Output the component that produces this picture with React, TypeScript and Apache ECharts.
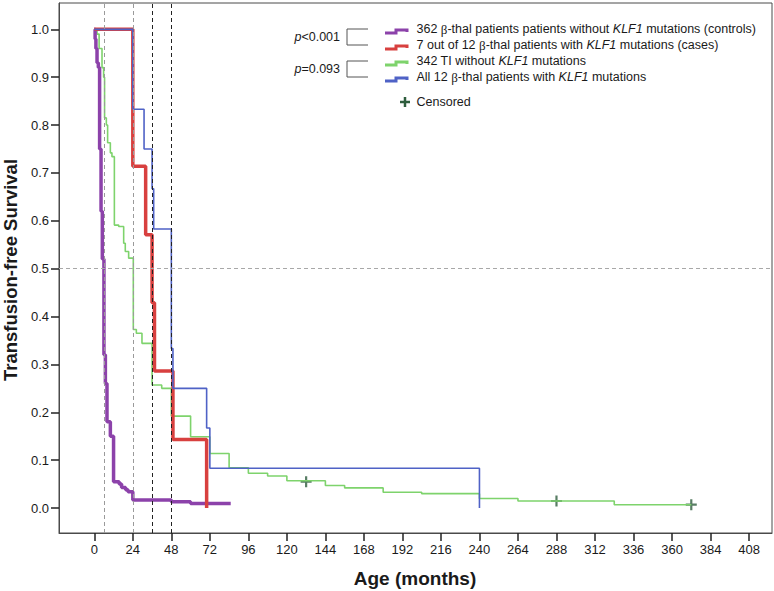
import React, { useEffect, useRef } from "react";
import * as echarts from "echarts";

// ---------- data ----------
const X_TICKS = [0, 24, 48, 72, 96, 120, 144, 168, 192, 216, 240, 264, 288, 312, 336, 360, 384, 408];
const Y_TICKS = [0.0, 0.1, 0.2, 0.3, 0.4, 0.5, 0.6, 0.7, 0.8, 0.9, 1.0];

// 362 β-thal patients without KLF1 mutations (controls)
const CONTROLS: [number, number][] = [
  [0, 1.0], [0.5, 0.98], [1, 0.96], [1.7, 0.93], [2.5, 0.92], [3.3, 0.75], [4.2, 0.62],
  [5, 0.52], [6, 0.32], [6.9, 0.26], [7.9, 0.18], [10, 0.15], [12, 0.055], [15.5, 0.05],
  [17, 0.043], [19.5, 0.038], [21, 0.034], [24, 0.017], [48, 0.013], [60, 0.0095], [85, 0.0095],
];
// 7 out of 12 β-thal patients with KLF1 mutations (cases)
const CASES: [number, number][] = [
  [0, 1.0], [24, 0.714], [32, 0.571], [36, 0.429], [37.5, 0.286], [49, 0.143], [70, 0.0],
];
// 342 TI without KLF1 mutations
const TI: [number, number][] = [
  [0, 1.0], [1.7, 0.99], [3, 0.96], [4.8, 0.92], [5.8, 0.9], [6.4, 0.815], [7.5, 0.8],
  [8.3, 0.763], [10, 0.742], [11, 0.734], [12.5, 0.591], [15.2, 0.588], [18.3, 0.553],
  [19.3, 0.536], [21.4, 0.522], [24.3, 0.373], [26.2, 0.365], [29.7, 0.344], [36, 0.257],
  [42, 0.25], [48, 0.192], [60, 0.149], [72, 0.114], [84, 0.084], [96, 0.0725], [108, 0.067],
  [120, 0.057], [144, 0.047], [156, 0.042], [180, 0.033], [204, 0.03], [240, 0.02],
  [264, 0.0146], [324, 0.0069], [372, 0.0069],
];
// All 12 β-thal patients with KLF1 mutations
const ALL12: [number, number][] = [
  [0, 1.0], [24, 0.833], [31, 0.75], [36, 0.667], [37, 0.583], [48, 0.333], [49, 0.25],
  [70, 0.167], [72, 0.083], [240, 0.0],
];
const CENSORED: [number, number][] = [[132, 0.055], [288, 0.0146], [372, 0.0069]];

const REF_GRAY_X = [6, 24];
const REF_BLACK_X = [36, 48];
const REF_Y = 0.5;

const LEGEND_LABELS = [
  "362 {b|β}-thal patients patients without {i|KLF1} mutations (controls)",
  "7 out of 12 {b|β}-thal patients with {i|KLF1} mutations (cases)",
  "342 TI without {i|KLF1} mutations",
  "All 12 {b|β}-thal patients with {i|KLF1} mutations",
];
const P_LABELS = ["{i|p}<0.001", "{i|p}=0.093"];
const CENSORED_LABEL = "Censored";
const X_TITLE = "Age (months)";
const Y_TITLE = "Transfusion-free Survival";

// ---------- styles ----------
const FONT = '"Liberation Sans", Arial, Helvetica, sans-serif';
const PURPLE = "#8c42aa";
const RED = "#d8403f";
const GREEN = "#7ed36c";
const BLUE = "#4f62c6";
const CENS = "#2e5d3d";
const FRAME = "#4a4a4a";
const TEXT = "#1a1a1a";
const SERIES_COLORS = [PURPLE, RED, GREEN, BLUE];
const LEGEND_Y = [29, 45, 61, 77];

export default function App() {
  const ref = useRef<HTMLDivElement>(null);

  useEffect(() => {
    if (!ref.current) return;
    const chart = echarts.init(ref.current, undefined, { renderer: "svg" });

    const rich = {
      i: { fontStyle: "italic", fontSize: 12.5, fontFamily: FONT, fill: TEXT },
      b: { fontSize: 13, fontFamily: '"Liberation Serif", "DejaVu Serif", serif', fill: TEXT },
    };

    const graphics: any[] = [
      {
        type: "text",
        x: 10,
        y: 270,
        rotation: Math.PI / 2,
        style: {
          text: Y_TITLE,
          font: `bold 18.5px ${FONT}`,
          fill: TEXT,
          align: "center",
          verticalAlign: "middle",
        },
      },
      {
        type: "text",
        x: 415,
        y: 578,
        style: {
          text: X_TITLE,
          font: `bold 19px ${FONT}`,
          fill: TEXT,
          align: "center",
          verticalAlign: "middle",
        },
      },
    ];

    LEGEND_LABELS.forEach((lab, i) => {
      const y = LEGEND_Y[i];
      graphics.push({
        type: "polyline",
        shape: { points: [[385, y + 4], [396, y + 4], [396, y + 1], [407, y + 1], [407, y + 3]] },
        style: { stroke: SERIES_COLORS[i], lineWidth: 3, fill: null },
      });
      graphics.push({
        type: "text",
        x: 416.5,
        y,
        style: {
          text: lab,
          rich,
          fontSize: 12.5,
          fontFamily: FONT,
          fill: TEXT,
          verticalAlign: "middle",
        },
      });
    });

    // p-value brackets
    [[LEGEND_Y[0], LEGEND_Y[1]], [LEGEND_Y[2], LEGEND_Y[3]]].forEach((pair, k) => {
      graphics.push({
        type: "polyline",
        shape: { points: [[368, pair[0]], [347, pair[0]], [347, pair[1]], [368, pair[1]]] },
        style: { stroke: "#555", lineWidth: 1, fill: null },
      });
      graphics.push({
        type: "text",
        x: 340,
        y: (pair[0] + pair[1]) / 2,
        style: {
          text: P_LABELS[k],
          rich,
          fontSize: 12.5,
          fontFamily: FONT,
          fill: TEXT,
          align: "right",
          verticalAlign: "middle",
        },
      });
    });

    // censored legend
    graphics.push({
      type: "line",
      shape: { x1: 400, y1: 102, x2: 410, y2: 102 },
      style: { stroke: CENS, lineWidth: 2.5 },
    });
    graphics.push({
      type: "line",
      shape: { x1: 405, y1: 97, x2: 405, y2: 107 },
      style: { stroke: CENS, lineWidth: 2.5 },
    });
    graphics.push({
      type: "text",
      x: 416.5,
      y: 102,
      style: {
        text: CENSORED_LABEL,
        fontSize: 12.5,
        fontFamily: FONT,
        fill: TEXT,
        verticalAlign: "middle",
      },
    });

    const markLineData: any[] = [
      ...REF_GRAY_X.map((v) => ({ xAxis: v, lineStyle: { color: "#9a9a9a", type: [4, 3], width: 1 } })),
      ...REF_BLACK_X.map((v) => ({ xAxis: v, lineStyle: { color: "#222", type: [4, 3], width: 1 } })),
      { yAxis: REF_Y, lineStyle: { color: "#a8a8a8", type: [4, 3], width: 1 } },
    ];

    const option: any = {
      animation: false,
      backgroundColor: "#fff",
      grid: {
        left: 59,
        right: 2,
        top: 3,
        bottom: 58,
        show: true,
        borderColor: FRAME,
        borderWidth: 1,
        backgroundColor: "transparent",
      },
      xAxis: {
        type: "value",
        min: -22,
        max: 422.3,
        splitLine: { show: false },
        axisLine: { show: true, onZero: false, lineStyle: { color: FRAME, width: 1 } },
        axisTick: { show: true, customValues: X_TICKS, length: 8, lineStyle: { color: "#222", width: 1.5 } },
        axisLabel: {
          customValues: X_TICKS,
          margin: 10,
          fontSize: 13,
          fontFamily: FONT,
          color: TEXT,
        },
      },
      yAxis: {
        type: "value",
        min: -0.0522,
        max: 1.055,
        splitLine: { show: false },
        axisLine: { show: true, onZero: false, lineStyle: { color: FRAME, width: 1 } },
        axisTick: { show: true, customValues: Y_TICKS, length: 8, lineStyle: { color: "#222", width: 1.5 } },
        axisLabel: {
          customValues: Y_TICKS,
          margin: 10,
          fontSize: 13,
          fontFamily: FONT,
          color: TEXT,
          formatter: (v: number) => v.toFixed(1),
        },
      },
      series: [
        {
          name: "ref",
          type: "line",
          data: [],
          silent: true,
          markLine: {
            silent: true,
            symbol: ["none", "none"],
            label: { show: false },
            data: markLineData,
          },
        },
        {
          name: "TI",
          type: "line",
          step: "end",
          showSymbol: false,
          data: TI,
          lineStyle: { color: GREEN, width: 1.6 },
          itemStyle: { color: GREEN },
        },
        {
          name: "controls",
          type: "line",
          step: "end",
          showSymbol: false,
          data: CONTROLS,
          lineStyle: { color: PURPLE, width: 3.5 },
          itemStyle: { color: PURPLE },
        },
        {
          name: "cases",
          type: "line",
          step: "end",
          showSymbol: false,
          data: CASES,
          lineStyle: { color: RED, width: 3.5 },
          itemStyle: { color: RED },
        },
        {
          name: "all12",
          type: "line",
          step: "end",
          showSymbol: false,
          data: ALL12,
          lineStyle: { color: BLUE, width: 1.6 },
          itemStyle: { color: BLUE },
        },
        {
          name: "censored",
          type: "scatter",
          data: CENSORED,
          symbol: "path://M4,0H6V4H10V6H6V10H4V6H0V4H4Z",
          symbolSize: 11,
          itemStyle: { color: CENS },
        },
      ],
      graphic: graphics,
    };

    chart.setOption(option);
    return () => chart.dispose();
  }, []);

  return (
    <div
      ref={ref}
      style={{ position: "absolute", left: 0, top: 0, width: 774, height: 591, background: "#fff" }}
    />
  );
}
